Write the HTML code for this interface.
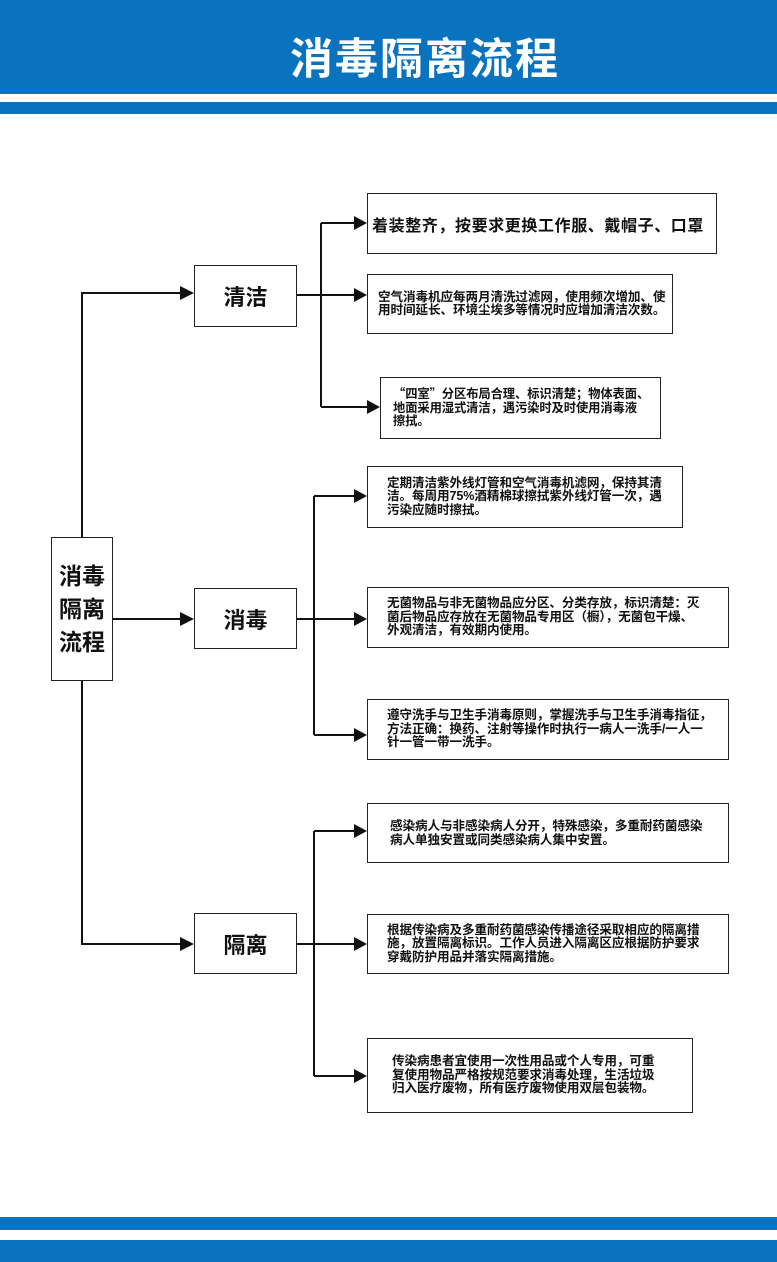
<!DOCTYPE html>
<html><head><meta charset="utf-8">
<style>
body{margin:0;width:777px;height:1262px;position:relative;background:#fff;overflow:hidden;font-family:"Liberation Sans","Noto Sans CJK SC",sans-serif;}
.b{position:absolute;background:#0a73c0;left:0;width:777px;}
.box{position:absolute;box-sizing:border-box;border:1.5px solid #222;background:#fff;display:flex;align-items:center;color:#111;font-weight:bold;}
.t{font-size:12.6px;line-height:13.5px;padding-left:19px;white-space:nowrap;letter-spacing:-0.1px;}
.c{justify-content:center;font-size:22px;}
.q{font-family:"Noto Sans CJK SC",sans-serif;}
</style></head><body>
<div class="b" style="top:0;height:94px"></div>
<div class="b" style="top:102px;height:12px"></div>
<div style="position:absolute;top:30px;left:0;width:850px;text-align:center;color:#fff;font-size:43px;font-weight:bold;line-height:60px;letter-spacing:2px">消毒隔离流程</div>
<div class="b" style="top:1217px;height:13px"></div>
<div class="b" style="top:1240px;height:22px"></div>

<svg style="position:absolute;left:0;top:0" width="777" height="1262">
<g stroke="#111" stroke-width="2" fill="none">
<path d="M82 537V293H182M82 681V944H182M113 619H182"/>
<path d="M297 295H321M321 223V407M321 223H356M321 295H356M321 407H369"/>
<path d="M297 619H314M314 496V735M314 496H356M314 619H356M314 735H356"/>
<path d="M297 944H314M314 831V1076M314 831H356M314 944H356M314 1076H356"/>
</g>
<g fill="#111">
<path d="M180 286L194 293L180 300Z"/><path d="M180 937L194 944L180 951Z"/><path d="M180 612L194 619L180 626Z"/>
<path d="M354 216L367 223L354 230Z"/><path d="M354 288L367 295L354 302Z"/><path d="M367 400L380 407L367 414Z"/>
<path d="M354 489L367 496L354 503Z"/><path d="M354 612L367 619L354 626Z"/><path d="M354 728L367 735L354 742Z"/>
<path d="M354 824L367 831L354 838Z"/><path d="M354 937L367 944L354 951Z"/><path d="M354 1069L367 1076L354 1083Z"/>
</g>
</svg>

<div class="box c" style="left:51px;top:537px;width:62px;height:144px;font-size:23px;line-height:33px;text-align:center">消毒<br>隔离<br>流程</div>
<div class="box c" style="left:194px;top:265px;width:103px;height:62px">清洁</div>
<div class="box c" style="left:194px;top:588px;width:103px;height:61px">消毒</div>
<div class="box c" style="left:194px;top:913px;width:103px;height:61px">隔离</div>

<div class="box" style="left:367px;top:193px;width:350px;height:61px;font-size:16px;padding-left:4px;letter-spacing:0.6px;white-space:nowrap">着装整齐，按要求更换工作服、戴帽子、口罩</div>
<div class="box t" style="left:367px;top:274px;width:306px;height:60px;padding-left:10px">空气消毒机应每两月清洗过滤网，使用频次增加、使<br>用时间延长、环境尘埃多等情况时应增加清洁次数。</div>
<div class="box t" style="left:380px;top:377px;width:281px;height:62px;padding-left:12px;font-size:12.3px"><span><span class="q">“四室”</span>分区布局合理、标识清楚；物体表面、<br>地面采用湿式清洁，遇污染时及时使用消毒液<br>擦拭。</span></div>

<div class="box t" style="left:367px;top:466px;width:316px;height:62px">定期清洁紫外线灯管和空气消毒机滤网，保持其清<br>洁。每周用75%酒精棉球擦拭紫外线灯管一次，遇<br>污染应随时擦拭。</div>
<div class="box t" style="left:367px;top:587px;width:362px;height:61px">无菌物品与非无菌物品应分区、分类存放，标识清楚：灭<br>菌后物品应存放在无菌物品专用区（橱），无菌包干燥、<br>外观清洁，有效期内使用。</div>
<div class="box t" style="left:367px;top:699px;width:362px;height:61px">遵守洗手与卫生手消毒原则，掌握洗手与卫生手消毒指征，<br>方法正确：换药、注射等操作时执行一病人一洗手/一人一<br>针一管一带一洗手。</div>

<div class="box t" style="left:367px;top:803px;width:362px;height:60px;padding-left:22px;align-items:flex-start;padding-top:16px">感染病人与非感染病人分开，特殊感染，多重耐药菌感染<br>病人单独安置或同类感染病人集中安置。</div>
<div class="box t" style="left:367px;top:914px;width:362px;height:60px">根据传染病及多重耐药菌感染传播途径采取相应的隔离措<br>施，放置隔离标识。工作人员进入隔离区应根据防护要求<br>穿戴防护用品并落实隔离措施。</div>
<div class="box t" style="left:367px;top:1038px;width:326px;height:75px;padding-left:24px">传染病患者宜使用一次性用品或个人专用，可重<br>复使用物品严格按规范要求消毒处理，生活垃圾<br>归入医疗废物，所有医疗废物使用双层包装物。</div>
</body></html>
